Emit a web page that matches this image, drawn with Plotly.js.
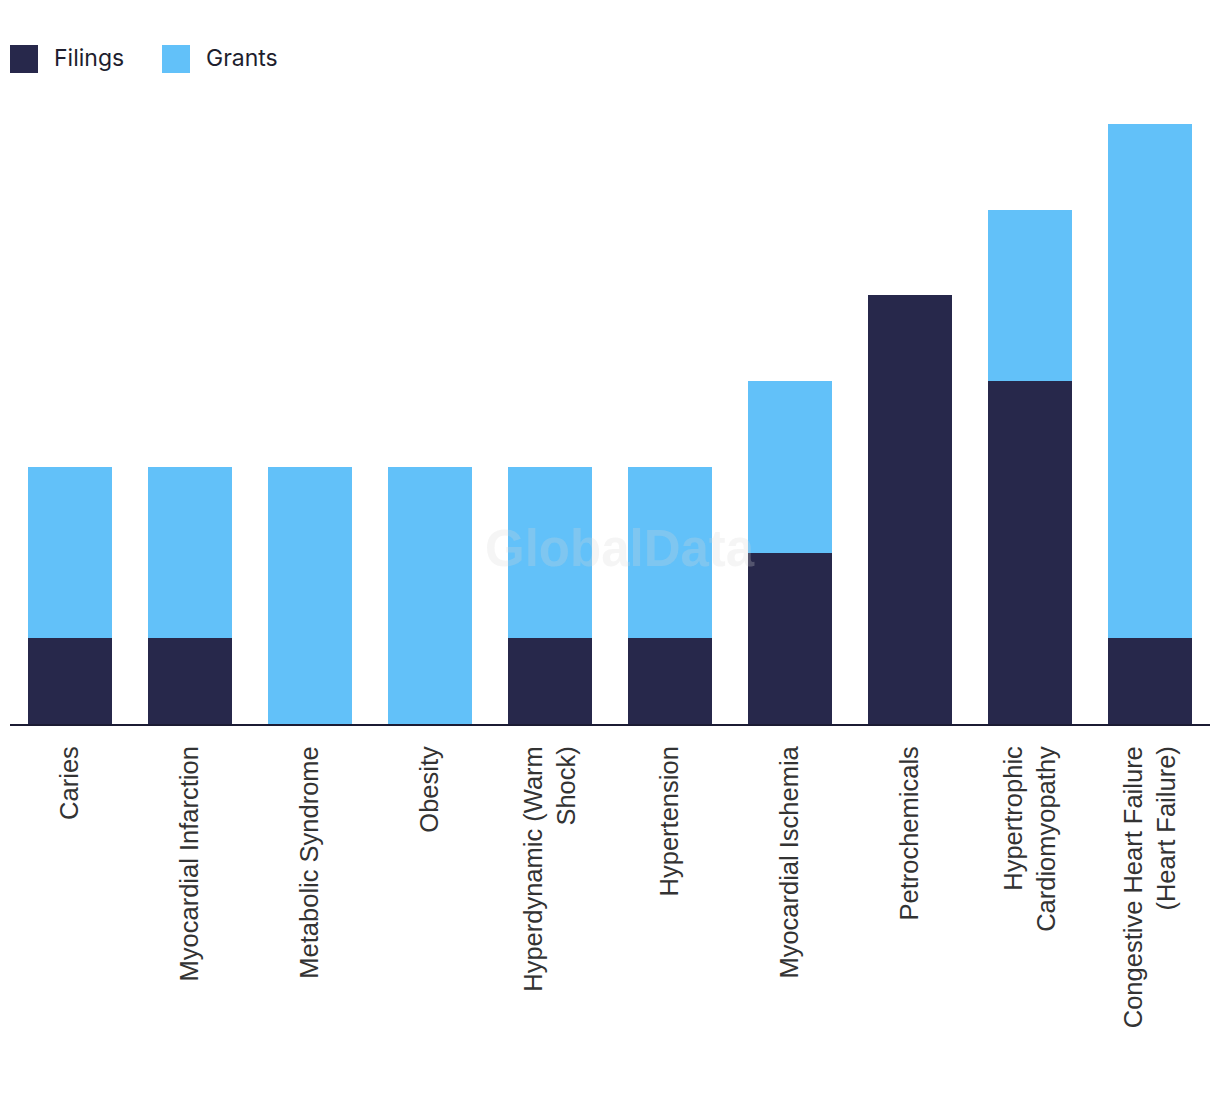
<!DOCTYPE html>
<html>
<head>
<meta charset="utf-8">
<script src="https://cdn.plot.ly/plotly-3.0.1.min.js"></script>
<style>html,body{margin:0;padding:0;background:#fff;}#chart{width:1220px;height:1094px;}</style>
</head>
<body>
<div id="chart"></div>
<script>
var categories = [
  "Caries",
  "Myocardial Infarction",
  "Metabolic Syndrome",
  "Obesity",
  "Hyperdynamic (Warm<br>Shock)",
  "Hypertension",
  "Myocardial Ischemia",
  "Petrochemicals",
  "Hypertrophic<br>Cardiomyopathy",
  "Congestive Heart Failure<br>(Heart Failure)"
];
var filings = [1, 1, 0, 0, 1, 1, 2, 5, 4, 1];
var grants  = [2, 2, 3, 3, 2, 2, 2, 0, 2, 6];
var seriesNames = ["Filings", "Grants"];
var seriesColors = ["#27284b", "#62c1f9"];

var traces = [
  {type: "bar", name: seriesNames[0], x: categories, y: filings,
   marker: {color: seriesColors[0]}, showlegend: false, hoverinfo: "x+y+name"},
  {type: "bar", name: seriesNames[1], x: categories, y: grants,
   marker: {color: seriesColors[1]}, showlegend: false, hoverinfo: "x+y+name"}
];

// manual legend (large square swatches)
var legendX = [10, 162];
var shapes = [];
var annotations = [];
for (var i = 0; i < seriesNames.length; i++) {
  shapes.push({type: "rect", xref: "paper", yref: "paper",
    x0: (legendX[i] - 10) / 1200, x1: (legendX[i] + 18) / 1200,
    y0: (724 - 73) / 600, y1: (724 - 45) / 600,
    fillcolor: seriesColors[i], line: {width: 0}, layer: "above"});
  annotations.push({xref: "paper", yref: "paper",
    x: (legendX[i] + 32) / 1200, y: (724 - 58) / 600,
    xanchor: "left", yanchor: "middle", showarrow: false,
    text: seriesNames[i], font: {family: "Inter, 'Noto Sans', sans-serif", size: 23, color: "#1e1e2e"}});
}
annotations.push({xref: "paper", yref: "paper", x: 0.508, y: (724 - 548) / 600,
  xanchor: "center", yanchor: "middle", showarrow: false, text: "<b>GlobalData</b>",
  font: {family: "'Liberation Sans', Arial, sans-serif", size: 51, color: "rgba(215,215,215,0.25)"}});

var layout = {
  width: 1220, height: 1094,
  margin: {l: 10, r: 10, t: 124, b: 370},
  paper_bgcolor: "#ffffff", plot_bgcolor: "#ffffff",
  barmode: "stack", bargap: 0.3,
  showlegend: false,
  xaxis: {
    type: "category", tickangle: -90,
    tickfont: {family: "'Liberation Sans', Arial, sans-serif", size: 25.5, color: "#333333"},
    showline: true, linecolor: "#1b1b33", linewidth: 2,
    ticks: "", ticklabelstandoff: 10, showgrid: false, zeroline: false, fixedrange: true
  },
  yaxis: {range: [0, 7], visible: false, showgrid: false, zeroline: false, fixedrange: true},
  shapes: shapes,
  annotations: annotations
};

Plotly.newPlot("chart", traces, layout, {displayModeBar: false, staticPlot: true});
</script>
</body>
</html>
